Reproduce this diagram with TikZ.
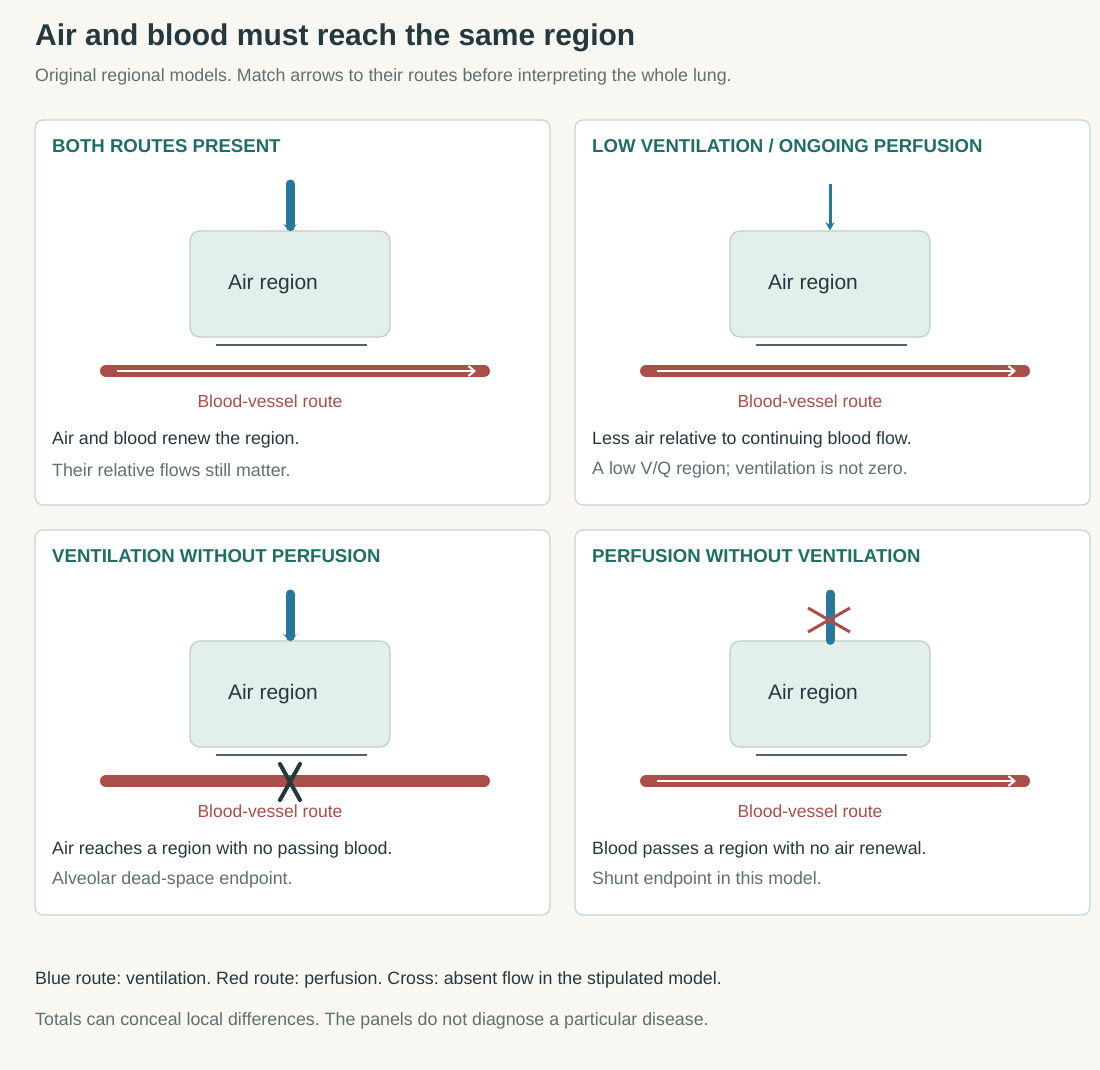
\documentclass[tikz,border=0pt]{standalone}
\usepackage{fontspec}
\setmainfont{Liberation Sans}
\usetikzlibrary{arrows.meta}
\frenchspacing
\definecolor{bgc}{HTML}{F8F7F2}
\definecolor{ink}{HTML}{24393F}
\definecolor{mute}{HTML}{5F7070}
\definecolor{teal}{HTML}{1E6E64}
\definecolor{edge}{HTML}{C5D5CF}
\definecolor{airfill}{HTML}{E3EFEA}
\definecolor{airedge}{HTML}{BDD0C8}
\definecolor{vent}{HTML}{28789C}
\definecolor{blood}{HTML}{A84F47}
\definecolor{wall}{HTML}{4E6468}

\tikzset{
  panel/.style={draw=edge, fill=white, line width=1.2pt, rounded corners=8pt},
  airbox/.style={draw=airedge, fill=airfill, line width=1.2pt, rounded corners=10pt,
    minimum width=200pt, minimum height=106pt, font=\fontsize{21}{24}\selectfont, text=ink},
  heading/.style={anchor=west, inner sep=0pt, text=teal, font=\bfseries\fontsize{18.6}{22}\selectfont},
  body/.style={anchor=west, inner sep=0pt, text=ink, font=\fontsize{17.8}{21}\selectfont},
  note/.style={anchor=west, inner sep=0pt, text=mute, font=\fontsize{17.8}{21}\selectfont},
  vessel/.style={draw=blood, line width=12pt, line cap=round},
  flowline/.style={draw=white, line width=2pt, -{Straight Barb[length=6pt,width=10pt]}},
  vlabel/.style={text=blood, font=\fontsize{17.5}{21}\selectfont},
}

% one panel: shift x, shift y, heading, text, note
\newcommand{\lungpanel}[5]{
  \draw[panel] (#1+35,#2+120) rectangle (#1+550,#2+505);
  \node[heading] at (#1+52,#2+146) {#3};
  \node[airbox] (air) at (#1+290,#2+284) {\hspace*{-34pt}Air region};
  \draw[wall, line width=2pt] (#1+216,#2+345) -- (#1+367,#2+345);
  \coordinate (vin) at (#1+290,#2+184);
  \coordinate (va) at (#1+106,#2+371);
  \coordinate (vb) at (#1+484,#2+371);
  \draw[vessel] (va) -- (vb);
  \node[vlabel] (vl) at (#1+270,#2+401) {Blood-vessel route};
  \node[body] at (#1+52,#2+440) {#4};
  \node[note] at (#1+52,#2+470) {#5};
}

\begin{document}
\begin{tikzpicture}[x=1pt, y=-1pt]
  \fill[bgc] (0,0) rectangle (1100,1070);
  \useasboundingbox (0,0) rectangle (1100,1070);

  % title
  \node[anchor=west, inner sep=0pt, text=ink, font=\bfseries\fontsize{30}{35}\selectfont] (title) at (35,38)
    {Air and blood must reach the same region};
  \node[note] (sub) at (35,77)
    {Original regional models. Match arrows to their routes before interpreting the whole lung.};

  % both routes present
  \lungpanel{0}{0}{BOTH ROUTES PRESENT}{Air and blood renew the region.}{Their relative flows still matter.}
  \draw[vent, line width=9pt, line cap=round, -{Stealth[length=6pt,width=14pt]}] (vin) -- (air.north);
  \draw[flowline] (117,371) -- (476,371);

  % low ventilation
  \lungpanel{540}{0}{LOW VENTILATION / ONGOING PERFUSION}{Less air relative to continuing blood flow.}{A low V/Q region; ventilation is not zero.}
  \draw[vent, line width=3pt, -{Stealth[length=8pt,width=9pt]}] (vin) -- (air.north);
  \draw[flowline] (657,371) -- (1016,371);

  % ventilation without perfusion
  \lungpanel{0}{410}{VENTILATION WITHOUT PERFUSION}{Air reaches a region with no passing blood.}{Alveolar dead-space endpoint.}
  \draw[vent, line width=9pt, line cap=round, -{Stealth[length=6pt,width=14pt]}] (vin) -- (air.north);
  \draw[ink, line width=4pt, line cap=round] (280,764) -- (300,800) (300,764) -- (280,800);

  % perfusion without ventilation
  \lungpanel{540}{410}{PERFUSION WITHOUT VENTILATION}{Blood passes a region with no air renewal.}{Shunt endpoint in this model.}
  \draw[vent, line width=9pt, line cap=round] (vin) -- (air.north);
  \draw[blood, line width=3pt] (808,608) -- (850,632) (850,608) -- (808,632);
  \draw[flowline] (657,781) -- (1016,781);

  % footer
  \node[body] (key) at (35,980)
    {Blue route: ventilation. Red route: perfusion. Cross: absent flow in the stipulated model.};
  \node[note] (caveat) at (35,1021)
    {Totals can conceal local differences. The panels do not diagnose a particular disease.};
\end{tikzpicture}
\end{document}
